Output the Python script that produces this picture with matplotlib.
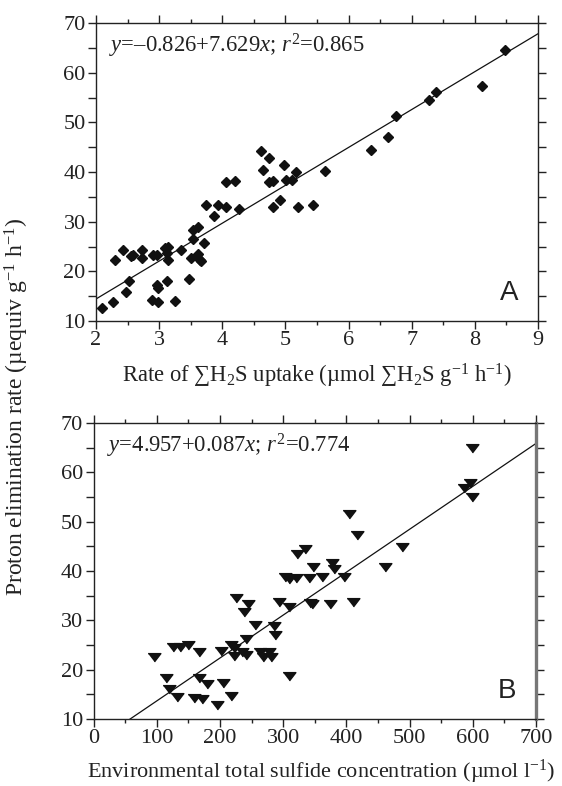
"""
Proton elimination rate vs sulfide uptake / environmental sulfide (two panels)
"""
# IMPORTS
import numpy as np
import matplotlib
matplotlib.use('Agg')
import matplotlib.pyplot as plt
from matplotlib.ticker import MultipleLocator


# VARIABLES
# Panel A: rate of sum H2S uptake vs proton elimination rate
uptake_a = [2.10, 2.27, 2.30, 2.43, 2.47, 2.53, 2.56, 2.59, 2.73, 2.73,
            2.88, 2.90, 2.96, 2.96, 2.98, 2.98, 3.09, 3.14, 3.12, 3.14,
            3.12, 3.25, 3.34, 3.47, 3.50, 3.53, 3.54, 3.62, 3.62, 3.65,
            3.67, 3.71, 3.74, 3.87, 3.94, 4.06, 4.06, 4.20, 4.26, 4.61,
            4.64, 4.74, 4.74, 4.81, 4.80, 4.91, 4.98, 5.01, 5.10, 5.17,
            5.20, 5.43, 5.62, 6.36, 6.63, 6.75, 7.28, 7.38, 8.12, 8.47]
proton_a = [12.6, 13.8, 22.2, 24.3, 15.8, 18.0, 23.0, 23.2, 24.3, 22.6,
            14.3, 23.2, 23.2, 17.2, 13.8, 16.7, 24.6, 24.9, 18.0, 22.2,
            23.6, 14.1, 24.3, 18.4, 22.6, 26.6, 28.4, 23.4, 28.9, 22.2,
            22.0, 25.8, 33.4, 31.2, 33.4, 33.0, 37.9, 38.2, 32.5, 44.2,
            40.5, 42.9, 37.9, 38.2, 32.9, 34.3, 41.4, 38.4, 38.3, 40.0,
            32.9, 33.4, 40.3, 44.5, 47.1, 51.3, 54.5, 56.2, 57.4, 64.6]
fit_a = (-0.826, 7.629)

# Panel B: environmental total sulfide vs proton elimination rate
sulfide_b = [96, 114, 120, 125, 132, 137, 150, 159, 167, 167,
             172, 180, 196, 201, 205, 218, 218, 222, 223, 225,
             235, 238, 241, 242, 244, 255, 263, 268, 277, 280,
             286, 287, 293, 303, 309, 309, 310, 321, 322, 334,
             341, 342, 346, 347, 361, 374, 378, 381, 397, 404,
             410, 417, 461, 488, 586, 596, 599, 599]
proton_b = [22.7, 18.5, 16.3, 24.7, 14.6, 24.7, 25.2, 14.4, 18.6, 23.8,
            14.3, 17.2, 13.1, 23.9, 17.6, 14.8, 25.3, 24.5, 22.9, 34.7,
            23.8, 31.8, 26.5, 23.1, 33.5, 29.3, 23.8, 22.8, 23.8, 22.8,
            29.0, 27.2, 33.9, 38.9, 38.5, 19.0, 33.0, 38.8, 43.6, 44.7,
            38.7, 33.8, 33.5, 41.0, 38.9, 33.5, 41.9, 40.6, 38.9, 51.7,
            33.9, 47.6, 41.0, 45.1, 57.1, 58.1, 65.1, 55.3]
fit_b = (4.957, 0.087)

eq_a = r'$y$=–0.826+7.629$x$; $r^2$=0.865'
eq_b = r'$y$=4.957+0.087$x$; $r^2$=0.774'
xlabel_a = r'Rate of ∑H$_2$S uptake (µmol ∑H$_2$S g$^{-1}$ h$^{-1}$)'
xlabel_b = r'Environmental total sulfide concentration (µmol l$^{-1}$)'
ylabel = r'Proton elimination rate (µequiv g$^{-1}$ h$^{-1}$)'


# FUNCTIONS
def style_axes(ax, xmajor, xminor):
    """Ticks outward on all four sides, y labels only every 10."""
    ax.set_ylim(10, 70)
    ax.xaxis.set_major_locator(MultipleLocator(xmajor))
    ax.xaxis.set_minor_locator(MultipleLocator(xminor))
    ax.yaxis.set_major_locator(MultipleLocator(10))
    ax.yaxis.set_minor_locator(MultipleLocator(5))
    ax.tick_params(which='both', direction='out', top=True, right=True,
                   width=1.0, labelsize=16, colors='#222222')
    ax.tick_params(which='major', length=5.5, pad=2)
    ax.tick_params(axis='x', which='minor', length=2.8)
    ax.tick_params(axis='y', which='minor', length=5.5)
    for sp in ax.spines.values():
        sp.set_linewidth(1.0)
        sp.set_color('#222222')


# EXECUTION
plt.rcParams['font.family'] = ['Liberation Serif', 'DejaVu Serif']
plt.rcParams['mathtext.fontset'] = 'custom'
plt.rcParams['mathtext.rm'] = 'Liberation Serif'
plt.rcParams['mathtext.it'] = 'Liberation Serif:italic'

fig = plt.figure(figsize=(5.62, 7.86), dpi=100)

# Panel A
ax_a = fig.add_axes([96 / 562, 1 - 321 / 786, 442 / 562, 298 / 786])
style_axes(ax_a, 1, 0.5)
ax_a.set_xlim(2, 9)
xs = np.array([2, 9])
ax_a.plot(xs, fit_a[0] + fit_a[1] * xs, color='#111111', lw=0.9)
ax_a.plot(uptake_a, proton_a, linestyle='none', marker='D', ms=5.3,
          color='#111111', mec='#111111')
ax_a.text(0.03, 0.9, eq_a, transform=ax_a.transAxes, fontsize=16.3,
          color='#222222')
ax_a.text(0.955, 0.05, 'A', transform=ax_a.transAxes, fontsize=20,
          family='Liberation Sans', ha='right', va='bottom', color='#222222')
ax_a.set_xlabel(xlabel_a, fontsize=16.3, labelpad=8, color='#222222')

# Panel B
tri = [(-1, 0.45), (1, 0.45), (0, -0.85)]
ax_b = fig.add_axes([93.5 / 562, 1 - 719 / 786, 442.5 / 562, 296 / 786])
style_axes(ax_b, 100, 50)
ax_b.set_xlim(0, 700)
xs = np.array([0, 700])
ax_b.plot(xs, fit_b[0] + fit_b[1] * xs, color='#111111', lw=0.9)
ax_b.plot(sulfide_b, proton_b, linestyle='none', marker=tri, ms=9.2,
          color='#111111', mec='#111111')
ax_b.spines['right'].set_linewidth(2.4)
ax_b.spines['right'].set_color('#777777')
ax_b.text(0.03, 0.9, eq_b, transform=ax_b.transAxes, fontsize=16.3,
          color='#222222')
ax_b.text(0.955, 0.05, 'B', transform=ax_b.transAxes, fontsize=20,
          family='Liberation Sans', ha='right', va='bottom', color='#222222')

# Bottom x label and shared y label placed in figure pixels
fig.text(321 / 562, 1 - 772 / 786, xlabel_b, fontsize=16, ha='center',
         va='center', color='#222222')
fig.text(17 / 562, 1 - 407 / 786, ylabel, rotation=90, fontsize=17,
         ha='center', va='center', color='#222222')


# OUTPUT
fig.savefig('out.png', dpi=100)

# END OF FILE
